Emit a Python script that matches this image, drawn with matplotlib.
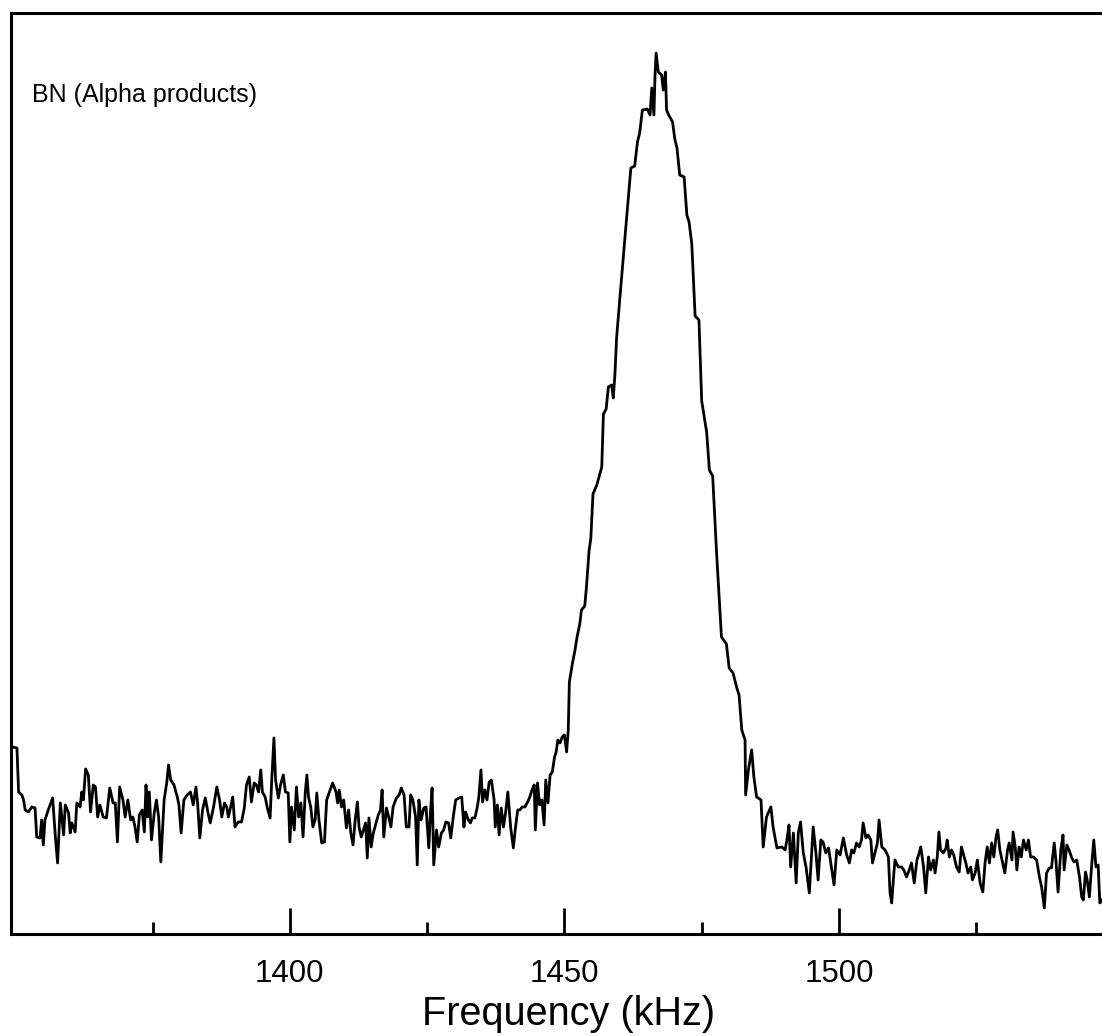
import matplotlib.pyplot as plt

plt.rcParams['font.family'] = ['Liberation Sans', 'DejaVu Sans']

# baseline left of the line (kHz, arbitrary counts)
left_khz = [
    1349.4, 1350.3, 1350.6, 1351.2, 1351.5, 1351.8, 1352.4, 1353.0, 1353.6, 1353.9,
    1354.5, 1354.8, 1355.1, 1355.4, 1356.0, 1356.8, 1357.3, 1357.7, 1358.2, 1358.8,
    1359.1, 1359.7, 1360.0, 1360.3, 1360.9, 1361.2, 1361.8, 1362.1, 1362.4, 1362.8,
    1363.3, 1363.7, 1364.2, 1364.6, 1365.0, 1365.4, 1366.0, 1366.6, 1367.2, 1367.8,
    1368.2, 1368.6, 1369.0, 1369.6, 1370.0, 1370.5, 1371.0, 1371.4, 1371.8, 1372.2,
    1372.6, 1373.1, 1373.5, 1373.8, 1374.1, 1374.4, 1374.8, 1375.3, 1375.7, 1376.1,
    1376.5, 1377.1, 1377.6, 1377.9, 1378.3, 1378.9, 1379.5, 1379.8, 1380.2, 1380.7,
    1381.3, 1381.9, 1382.4, 1382.9, 1383.2, 1383.6, 1384.1, 1384.6, 1385.1, 1385.5,
    1386.1, 1386.7, 1387.2, 1387.6, 1388.1, 1388.5, 1388.8, 1389.3, 1389.6, 1390.0,
    1390.6, 1391.2, 1391.7, 1392.1, 1392.6, 1393.0, 1393.5, 1393.9, 1394.3, 1394.7,
    1395.0, 1395.5, 1395.9, 1396.4, 1396.7, 1397.1, 1397.4, 1397.9, 1398.3, 1398.8,
    1399.2, 1399.7,
    1400.0, 1400.3, 1400.8, 1401.2, 1401.6, 1402.0, 1402.4, 1402.8, 1403.1, 1403.4,
    1403.8, 1404.2, 1404.6, 1404.9, 1405.3, 1405.8, 1406.3, 1406.7, 1407.2, 1407.8,
    1408.4, 1408.7, 1409.0, 1409.4, 1409.8, 1410.3, 1410.7, 1411.1, 1411.5, 1411.9,
    1412.3, 1412.6, 1413.0, 1413.4, 1413.8, 1414.1, 1414.4, 1414.8, 1415.2, 1415.7,
    1416.1, 1416.5, 1416.8, 1417.1, 1417.6, 1418.0, 1418.4, 1418.8, 1419.4, 1419.9,
    1420.3, 1420.8, 1421.2, 1421.7, 1422.0, 1422.4, 1422.9, 1423.2, 1423.5, 1423.9,
    1424.4, 1424.8, 1425.3, 1425.6, 1425.9, 1426.2, 1426.7, 1427.1, 1427.6, 1428.0,
    1428.4, 1428.9, 1429.3, 1429.8, 1430.2, 1430.8, 1431.3, 1431.7, 1432.0, 1432.5,
    1432.9, 1433.2, 1433.7, 1434.1, 1434.4, 1434.8, 1435.1, 1435.5, 1435.9, 1436.3,
    1436.7, 1437.2, 1437.4, 1437.8, 1438.1, 1438.5, 1438.9, 1439.3, 1439.7, 1440.2,
    1440.7, 1441.1, 1441.5, 1441.9, 1442.3, 1442.8, 1443.3, 1443.7, 1444.1, 1444.5,
    1444.7, 1445.1, 1445.5, 1445.9, 1446.3, 1446.6, 1447.0, 1447.4, 1447.8, 1448.2,
    1448.5, 1448.8, 1449.2, 1449.6, 1450.0, 1450.4,
]
left_counts = [
    187, 186, 142, 139, 134, 124, 122, 127, 126, 97,
    96, 114, 89, 114, 124, 136, 97, 71, 131, 99,
    129, 121, 101, 111, 102, 131, 127, 142, 134, 165,
    159, 122, 149, 147, 117, 129, 117, 116, 146, 131,
    131, 92, 147, 134, 117, 134, 114, 117, 107, 92,
    119, 124, 102, 149, 117, 142, 94, 121, 134, 117,
    72, 134, 152, 169, 154, 149, 137, 129, 101, 134,
    139, 142, 129, 147, 131, 96, 124, 136, 121, 111,
    127, 147, 134, 117, 131, 127, 117, 129, 137, 107,
    112, 112, 126, 149, 157, 132, 151, 149, 142, 164,
    142, 137, 126, 116, 154, 196, 154, 136, 149, 159,
    142, 141,
    92, 127, 104, 147, 117, 131, 97, 141, 159, 137,
    127, 107, 114, 141, 114, 91, 92, 134, 142, 151,
    142, 131, 144, 127, 134, 106, 124, 101, 89, 114,
    132, 107, 97, 104, 111, 76, 116, 87, 101, 111,
    119, 124, 144, 97, 126, 117, 107, 127, 136, 139,
    146, 139, 107, 107, 139, 134, 117, 69, 134, 114,
    126, 127, 86, 121, 146, 69, 104, 87, 101, 104,
    112, 111, 96, 119, 134, 136, 137, 107, 122, 114,
    111, 116, 116, 126, 136, 164, 132, 144, 134, 152,
    154, 134, 107, 129, 99, 126, 107, 122, 142, 107,
    86, 107, 124, 124, 127, 127, 132, 137, 144, 149,
    104, 151, 129, 134, 109, 154, 131, 159, 162, 177,
    182, 194, 191, 197, 199, 182,
]

# the resonance line
peak_khz = [
    1450.7, 1450.9, 1451.5, 1451.9, 1452.3, 1452.8, 1453.1, 1453.7, 1454.0, 1454.5,
    1454.8, 1455.2, 1455.9, 1456.8, 1457.1, 1457.6, 1458.0, 1458.6, 1458.9, 1459.2,
    1459.5, 1460.1, 1460.8, 1461.2, 1461.6, 1462.1, 1462.8, 1463.3, 1463.7, 1464.2,
    1465.1, 1465.6, 1465.9, 1466.3, 1466.5, 1466.7, 1467.1, 1467.7, 1468.0, 1468.4,
    1468.6, 1469.0, 1469.7, 1470.1, 1470.5, 1471.0, 1471.8, 1472.3, 1472.7, 1473.2,
    1473.8, 1474.5, 1475.0, 1475.9, 1476.4, 1477.0, 1477.7, 1478.6, 1479.5, 1480.0,
    1480.7, 1481.4, 1481.8, 1482.3, 1482.9,
]
peak_counts = [
    204, 252, 272, 283, 297, 310, 324, 328, 346, 384,
    395, 440, 449, 467, 520, 525, 547, 549, 536, 560,
    596, 636, 681, 708, 734, 766, 768, 792, 801, 824,
    825, 819, 846, 819, 859, 881, 862, 859, 844, 862,
    824, 819, 812, 795, 786, 759, 757, 719, 712, 690,
    618, 614, 533, 502, 464, 458, 382, 297, 290, 266,
    261, 246, 239, 204, 194,
]

# baseline right of the line
right_khz = [
    1483.0, 1483.5, 1484.1, 1484.5, 1485.0, 1485.8, 1486.2, 1486.8, 1487.6, 1488.0,
    1488.7, 1489.6, 1490.2, 1490.6, 1490.9, 1491.2, 1491.7, 1492.2, 1492.6, 1493.0,
    1493.5, 1494.0, 1494.6, 1495.3, 1495.8, 1496.2, 1496.7, 1497.1, 1497.6, 1498.1,
    1498.7, 1499.1, 1499.6, 1500.2, 1500.8, 1501.4, 1501.9, 1502.3, 1502.7, 1503.2,
    1503.7, 1504.1, 1504.4, 1504.9, 1505.3, 1505.8, 1506.1, 1506.6, 1507.0, 1507.3,
    1507.8, 1508.4, 1509.0, 1509.3, 1509.6, 1510.0, 1510.2, 1510.8, 1511.4, 1511.8,
    1512.3, 1512.8, 1513.2, 1513.7, 1514.2, 1514.6, 1514.9, 1515.4, 1515.8, 1516.3,
    1516.7, 1517.2, 1517.5, 1517.9, 1518.2, 1518.5, 1519.0, 1519.5, 1519.7, 1520.1,
    1520.5, 1520.9, 1521.4, 1521.9, 1522.3, 1522.6, 1523.1, 1523.5, 1524.0, 1524.3,
    1524.8, 1525.2, 1525.7, 1526.2, 1526.6, 1527.0, 1527.4, 1527.8, 1528.2, 1528.6,
    1528.9, 1529.3, 1529.8, 1530.2, 1530.7, 1531.0, 1531.5, 1531.7, 1532.1, 1532.4,
    1532.8, 1533.2, 1533.6, 1534.1, 1534.5, 1534.9, 1535.4, 1536.0, 1536.5, 1536.9,
    1537.4, 1537.8, 1538.3, 1538.7, 1539.2, 1539.5, 1539.9, 1540.4, 1540.8, 1541.0,
    1541.5, 1541.9, 1542.4, 1542.8, 1543.3, 1543.8, 1544.2, 1544.5, 1544.9, 1545.2,
    1545.6, 1546.0, 1546.4, 1546.8, 1547.2, 1547.5, 1547.9,
]
right_counts = [
    139, 164, 184, 157, 137, 134, 87, 117, 127, 107,
    86, 87, 84, 97, 109, 67, 101, 51, 101, 112,
    81, 67, 41, 107, 81, 54, 94, 92, 81, 86,
    64, 49, 84, 79, 96, 79, 71, 84, 81, 91,
    87, 94, 111, 96, 99, 94, 71, 82, 91, 114,
    87, 84, 77, 41, 31, 61, 74, 67, 67, 64,
    57, 64, 71, 51, 74, 81, 87, 67, 41, 77,
    64, 74, 61, 77, 102, 84, 81, 86, 94, 77,
    84, 79, 67, 62, 87, 81, 71, 61, 67, 54,
    61, 74, 51, 42, 71, 87, 71, 91, 77, 97,
    104, 84, 71, 61, 84, 91, 74, 102, 87, 64,
    87, 77, 94, 84, 94, 77, 77, 74, 57, 47,
    26, 61, 66, 66, 91, 74, 42, 84, 99, 64,
    89, 84, 76, 72, 74, 57, 37, 34, 62, 54,
    37, 67, 94, 67, 69, 31, 34,
]

major_ticks = [1400, 1450, 1500]
minor_ticks = [1375, 1425, 1475, 1525]
sample_label = "BN (Alpha products)"

freq = left_khz + peak_khz + right_khz
counts = left_counts + peak_counts + right_counts

fig = plt.figure(figsize=(11.02, 10.36), dpi=100)
ax = fig.add_axes([0.0104, 0.0985, 0.9896, 0.8894])

ax.plot(freq, counts, color='black', lw=2.0)

ax.set_xlim(1349.3, 1547.9)
ax.set_ylim(0, 921.5)
ax.spines['right'].set_visible(False)
for side in ['left', 'top', 'bottom']:
    ax.spines[side].set_linewidth(2.2)

ax.set_yticks([])
ax.set_xticks(major_ticks)
ax.set_xticks(minor_ticks, minor=True)
ax.tick_params(axis='x', which='major', direction='in', length=19, width=2,
               pad=18, labelsize=22.5)
ax.tick_params(axis='x', which='minor', direction='in', length=9, width=2)
ax.set_xlabel("Frequency (kHz)", fontsize=28.5, labelpad=4)
ax.xaxis.label.set_x(0.511)

ax.text(0.0188, 0.903, sample_label, transform=ax.transAxes,
        fontsize=18, va='baseline')

fig.savefig('out.png', dpi=100)
